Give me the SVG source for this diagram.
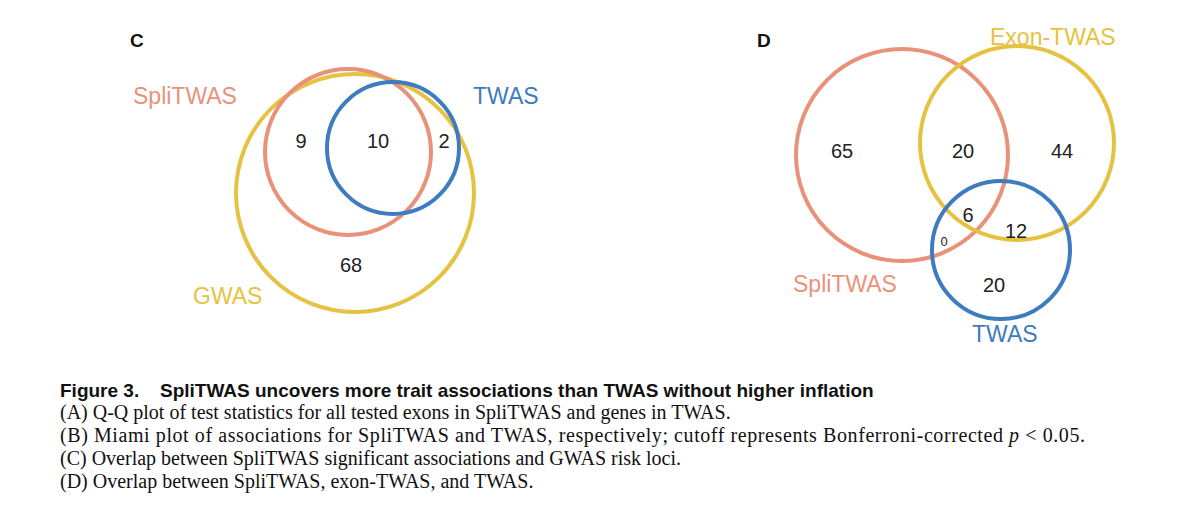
<svg xmlns="http://www.w3.org/2000/svg" width="1200" height="520" viewBox="0 0 1200 520">
<style>
.c{fill:none;stroke-width:4}
.y{stroke:#e6c242}.s{stroke:#e8927a}.b{stroke:#3e7bbf}
.n{font-family:"Liberation Sans",Arial,sans-serif;font-size:20px;fill:#222;text-anchor:middle}
.l{font-family:"Liberation Sans",Arial,sans-serif;font-size:23px}
.p{font-family:"Liberation Sans",Arial,sans-serif;font-size:19px;font-weight:bold;fill:#111}
.cap{font-family:"Liberation Serif","Times New Roman",serif;font-size:20px;fill:#111}
</style>
<rect width="1200" height="520" fill="#fff"/>
<g id="panelC">
<text class="p" x="130" y="47">C</text>
<circle id="gwasC" class="c y" cx="355" cy="193" r="119"/>
<circle id="splitwasC" class="c s" cx="348" cy="152" r="83"/>
<circle id="twasC" class="c b" cx="393" cy="148" r="66"/>
<text class="l" x="133" y="104" fill="#e8927a">SpliTWAS</text>
<text class="l" x="473" y="104" fill="#3e7bbf">TWAS</text>
<text class="l" x="193" y="304" fill="#e6c242">GWAS</text>
<text class="n" x="301" y="148">9</text>
<text class="n" x="378" y="148">10</text>
<text class="n" x="444" y="148">2</text>
<text class="n" x="351" y="272">68</text>
</g>
<g id="panelD">
<text class="p" x="757" y="47">D</text>
<circle id="splitwasD" class="c s" cx="902" cy="155" r="106"/>
<circle id="exonD" class="c y" cx="1017" cy="143" r="97"/>
<circle id="twasD" class="c b" cx="1001" cy="250" r="69"/>
<text class="l" x="990" y="45" fill="#e6c242">Exon-TWAS</text>
<text class="l" x="793" y="292" fill="#e8927a">SpliTWAS</text>
<text class="l" x="972" y="342" fill="#3e7bbf">TWAS</text>
<text class="n" x="842" y="158">65</text>
<text class="n" x="963" y="158">20</text>
<text class="n" x="1062" y="158">44</text>
<text class="n" x="968" y="222">6</text>
<text class="n" x="1016" y="238">12</text>
<text class="n" x="944" y="246" style="font-size:13px">0</text>
<text class="n" x="994" y="292">20</text>
</g>
<g id="caption">
<text class="cap" x="60" y="397" style="font-family:'Liberation Sans',Arial,sans-serif;font-weight:bold;font-size:19px">Figure 3.<tspan x="160">SpliTWAS uncovers more trait associations than TWAS without higher inflation</tspan></text>
<text class="cap" x="60" y="419">(A) Q-Q plot of test statistics for all tested exons in SpliTWAS and genes in TWAS.</text>
<text class="cap" x="60" y="442" textLength="1025">(B) Miami plot of associations for SpliTWAS and TWAS, respectively; cutoff represents Bonferroni-corrected <tspan font-style="italic">p</tspan> &lt; 0.05.</text>
<text class="cap" x="60" y="465">(C) Overlap between SpliTWAS significant associations and GWAS risk loci.</text>
<text class="cap" x="60" y="488">(D) Overlap between SpliTWAS, exon-TWAS, and TWAS.</text>
</g>
</svg>
